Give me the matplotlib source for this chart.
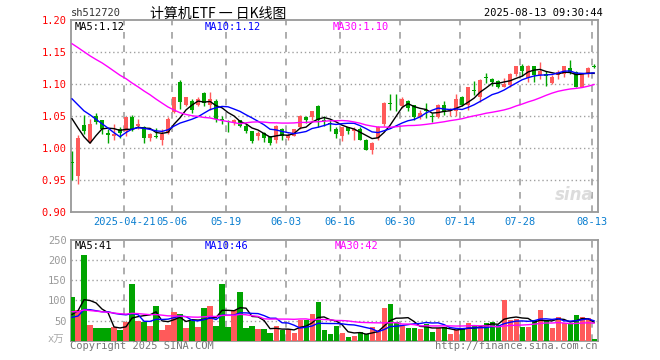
import numpy as np
import pandas as pd
import matplotlib
matplotlib.use('Agg')
import matplotlib.pyplot as plt

# daily bars, 2025-04-08 .. 2025-08-13 (88 trading days)
opens = [0.978, 0.956, 1.036, 1.010, 1.050, 1.043, 1.024, 1.018, 1.029, 1.026,
         1.049, 1.035, 1.032, 1.015, 1.019, 1.013, 1.024, 1.057, 1.104, 1.068,
         1.074, 1.068, 1.086, 1.068, 1.074, 1.045, 1.042, 1.039, 1.043, 1.035,
         1.026, 1.019, 1.024, 1.018, 1.013, 1.030, 1.015, 1.019, 1.032, 1.049,
         1.049, 1.066, 1.044, 1.039, 1.030, 1.019, 1.032, 1.027, 1.029, 1.013,
         0.996, 1.015, 1.037, 1.070, 1.068, 1.065, 1.074, 1.067, 1.049, 1.059,
         1.050, 1.049, 1.067, 1.058, 1.058, 1.080, 1.068, 1.090, 1.080, 1.111,
         1.108, 1.105, 1.096, 1.098, 1.116, 1.129, 1.110, 1.129, 1.115, 1.116,
         1.102, 1.115, 1.116, 1.126, 1.119, 1.096, 1.116, 1.128]
highs = [0.995, 1.021, 1.052, 1.046, 1.054, 1.044, 1.029, 1.038, 1.032, 1.049,
         1.051, 1.046, 1.035, 1.024, 1.031, 1.030, 1.049, 1.080, 1.107, 1.080,
         1.076, 1.079, 1.088, 1.087, 1.076, 1.050, 1.044, 1.046, 1.044, 1.038,
         1.027, 1.026, 1.025, 1.019, 1.036, 1.031, 1.024, 1.030, 1.052, 1.050,
         1.058, 1.068, 1.050, 1.043, 1.032, 1.033, 1.033, 1.032, 1.032, 1.014,
         1.010, 1.035, 1.072, 1.085, 1.085, 1.080, 1.075, 1.068, 1.060, 1.071,
         1.054, 1.069, 1.074, 1.063, 1.085, 1.081, 1.096, 1.105, 1.108, 1.118,
         1.110, 1.107, 1.110, 1.118, 1.129, 1.132, 1.130, 1.129, 1.135, 1.121,
         1.115, 1.122, 1.129, 1.138, 1.121, 1.117, 1.127, 1.132]
lows = [0.949, 0.944, 1.022, 1.007, 1.037, 1.022, 1.008, 1.013, 1.015, 1.018,
        1.026, 1.029, 1.008, 1.011, 1.015, 1.005, 1.022, 1.055, 1.061, 1.066,
        1.055, 1.065, 1.066, 1.060, 1.041, 1.037, 1.025, 1.036, 1.032, 1.024,
        1.008, 1.013, 1.010, 1.005, 1.007, 1.013, 1.013, 1.018, 1.029, 1.039,
        1.043, 1.032, 1.035, 1.027, 1.015, 1.011, 1.022, 1.013, 1.013, 0.996,
        0.990, 1.013, 1.035, 1.060, 1.058, 1.063, 1.058, 1.044, 1.046, 1.047,
        1.041, 1.047, 1.052, 1.050, 1.050, 1.066, 1.060, 1.083, 1.072, 1.102,
        1.097, 1.094, 1.095, 1.095, 1.113, 1.113, 1.104, 1.104, 1.108, 1.097,
        1.100, 1.108, 1.111, 1.116, 1.095, 1.095, 1.111, 1.125]
closes = [0.977, 1.015, 1.026, 1.038, 1.040, 1.030, 1.021, 1.022, 1.024, 1.049,
          1.029, 1.038, 1.015, 1.022, 1.017, 1.022, 1.046, 1.079, 1.072, 1.079,
          1.060, 1.077, 1.071, 1.077, 1.046, 1.043, 1.040, 1.044, 1.035, 1.026,
          1.011, 1.024, 1.016, 1.008, 1.035, 1.019, 1.021, 1.029, 1.050, 1.044,
          1.058, 1.044, 1.042, 1.038, 1.022, 1.032, 1.027, 1.029, 1.013, 0.997,
          1.007, 1.033, 1.071, 1.069, 1.067, 1.077, 1.063, 1.048, 1.055, 1.058,
          1.049, 1.067, 1.057, 1.060, 1.077, 1.068, 1.096, 1.089, 1.107, 1.110,
          1.104, 1.096, 1.100, 1.116, 1.129, 1.121, 1.129, 1.115, 1.121, 1.113,
          1.111, 1.119, 1.129, 1.119, 1.096, 1.116, 1.126, 1.127]
volumes = [108, 77, 212, 40, 32, 32, 32, 35, 27, 47,
           140, 50, 47, 37, 85, 27, 40, 72, 67, 32,
           50, 35, 80, 85, 37, 140, 35, 75, 122, 32,
           37, 30, 30, 20, 37, 27, 30, 20, 52, 52,
           67, 97, 27, 17, 37, 20, 10, 12, 22, 17,
           35, 27, 80, 90, 47, 37, 32, 32, 30, 42,
           22, 32, 35, 17, 27, 30, 45, 37, 35, 45,
           47, 40, 100, 52, 55, 35, 35, 52, 77, 50,
           32, 60, 45, 45, 65, 60, 57, 3]

# days before the window, inferred from where the MA lines start
prior_closes = [1.20, 1.22, 1.23, 1.21, 1.19, 1.21, 1.22, 1.22, 1.21,
                1.23, 1.22, 1.21, 1.20, 1.22, 1.21, 1.23, 1.22, 1.20,
                1.16, 1.12, 1.11, 1.12, 1.10, 1.11, 1.10,
                1.088, 1.095, 1.088, 0.981]
prior_volumes = [85, 70, 90, 75, 80, 65, 95, 78, 76, 82, 70, 88, 74, 80, 69,
                 92, 77, 83, 71, 80, 45, 50, 44, 58, 58, 30, 75, 50, 62]

tick_idx = [9, 17, 26, 36, 45, 55, 65, 75, 87]
tick_labels = ['2025-04-21', '05-06', '05-19', '06-03', '06-16',
               '06-30', '07-14', '07-28', '08-13']

RED = '#ff5a5a'
GREEN = '#00a400'
GRID = '#a0a0a0'
SPINE = '#999999'
MONO = 'DejaVu Sans Mono'

n = len(closes)
x = np.arange(n)
o = np.array(opens)
c = np.array(closes)
up = c >= o
colors = np.where(up, RED, GREEN)

all_c = pd.Series(prior_closes + closes)
all_v = pd.Series(prior_volumes + volumes)
k = len(prior_closes)
ma = {w: all_c.rolling(w).mean().values[k:] for w in (5, 10, 30)}
vma = {w: all_v.rolling(w).mean().values[k:] for w in (5, 10, 30)}
ma_colors = {5: 'black', 10: '#0000ff', 30: '#ff00ff'}

W, H = 660, 360
fig = plt.figure(figsize=(W / 100, H / 100), dpi=100)
ax = fig.add_axes([70.7 / W, 1 - 211.7 / H, 527 / W, 191.4 / H])
axv = fig.add_axes([70.7 / W, 1 - 340.7 / H, 527 / W, 100.7 / H])

xlim = (-0.22, 87.6)
grid_x = np.array(tick_idx) - 0.28

# candles
ax.vlines(x, lows, highs, colors=colors, lw=1, zorder=3)
body_h = np.maximum(np.abs(c - o), 0.0006)
ax.bar(x, body_h, bottom=np.minimum(o, c), width=0.72, color=colors,
       linewidth=0, zorder=4)
for w in (5, 10, 30):
    ax.plot(x, ma[w], color=ma_colors[w], lw=1, zorder=5)

ax.set_xlim(*xlim)
ax.set_ylim(0.90, 1.20)
ax.set_yticks(np.arange(0.90, 1.201, 0.05))
ax.set_yticklabels([f'{v:.2f}' for v in np.arange(0.90, 1.201, 0.05)])
ax.set_xticks(grid_x)
ax.set_xticklabels(tick_labels)
ax.tick_params(axis='y', length=0, pad=3, labelsize=7.5, labelcolor='#ff0000')
ax.tick_params(axis='x', length=0, pad=4, labelsize=7.5, labelcolor='#0a7ed0')
for lab in ax.get_xticklabels() + ax.get_yticklabels():
    lab.set_family(MONO)
for yv in np.arange(0.95, 1.20, 0.05):
    ax.axhline(yv, color=GRID, lw=1, ls=(0, (1, 2)), zorder=2)
for gx in grid_x:
    ax.axvline(gx, color=GRID, lw=1.2, ls=(0, (4, 4)), zorder=2)

# volume
axv.bar(x, volumes, width=0.85, color=colors, linewidth=0, zorder=3)
for w in (5, 10, 30):
    axv.plot(x, vma[w], color=ma_colors[w], lw=1, zorder=5)
axv.set_xlim(*xlim)
axv.set_ylim(0, 250)
axv.set_yticks([50, 100, 150, 200, 250])
axv.set_xticks([])
axv.tick_params(axis='y', length=0, pad=3, labelsize=7.5, labelcolor='#999999')
for lab in axv.get_yticklabels():
    lab.set_family(MONO)
for yv in (50, 100, 150, 200):
    axv.axhline(yv, color=GRID, lw=1, ls=(0, (1, 2)), zorder=2)
for gx in grid_x:
    axv.axvline(gx, color=GRID, lw=1.2, ls=(0, (4, 4)), zorder=2)

for a in (ax, axv):
    for s in a.spines.values():
        s.set_color(SPINE)
        s.set_linewidth(1.3)


def ftext(px, py, s, **kw):
    kw.setdefault('family', MONO)
    kw.setdefault('fontsize', 7.5)
    fig.text(px / W, 1 - py / H, s, va='center', **kw)


ftext(71, 13.5, 'sh512720', color='#333333')
ftext(218, 13.5, '计算机ETF 一 日K线图', ha='center', fontsize=10,
      family=['Noto Sans CJK SC', 'DejaVu Sans'])
ftext(603, 13.5, '2025-08-13 09:30:44', ha='right', color='black')

ftext(75, 27, f'MA5:{ma[5][-1]:.2f}', color='black')
ftext(205, 27, f'MA10:{ma[10][-1]:.2f}', color='#0000ff')
ftext(333, 27, 'MA30:1.10', color='#ff00ff')

ftext(75, 246, 'MA5:41', color='black')
ftext(205, 246, 'MA10:46', color='#0000ff')
ftext(335, 246, 'MA30:42', color='#ff00ff')

ftext(64, 340, 'x万', ha='right', color='#aaaaaa', fontsize=7.5,
      family=['DejaVu Sans Mono', 'Noto Sans CJK SC'])
ftext(70, 346, 'Copyright 2025 SINA.COM', color='#777777')
ftext(597, 346, 'http://finance.sina.com.cn', ha='right', color='#777777')
ftext(574, 195, 'sina', ha='center', color='#dcdcdc', fontsize=12,
      family='DejaVu Sans', style='italic', weight='bold')

fig.savefig('out.png', dpi=100)
